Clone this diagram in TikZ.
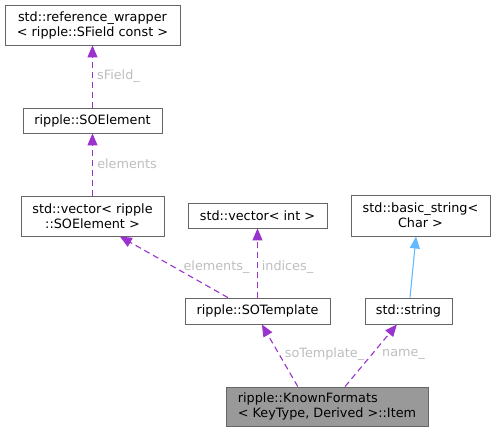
\documentclass[tikz,border=0pt]{standalone}
\usepackage{fontspec}
\setmainfont{DejaVu Sans}
\usetikzlibrary{calc,arrows.meta}
\definecolor{edgepurple}{HTML}{9A32CD}
\definecolor{edgeblue}{HTML}{63B8FF}
\definecolor{boxborder}{HTML}{666666}
\definecolor{lblgrey}{HTML}{BEBEBE}
\definecolor{itemfill}{HTML}{999999}
\tikzset{
  cls/.style={draw=boxborder, line width=0.9pt, fill=white, rectangle, inner sep=0pt,
    align=center, font=\fontsize{12.8}{15}\selectfont},
  usage/.style={draw=edgepurple, line width=1.1pt, dash pattern=on 6pt off 4pt,
    -{Triangle[length=12pt,width=10pt]}},
  inherit/.style={draw=edgeblue, line width=1.1pt, -{Triangle[length=12pt,width=10pt]}},
  lbl/.style={text=lblgrey, inner sep=0pt, font=\fontsize{12.8}{15}\selectfont}
}
\begin{document}
\begin{tikzpicture}[x=1pt,y=-1pt]
\useasboundingbox (0,0) rectangle (495,432);
\node[cls, minimum width=175pt, minimum height=40pt] (rw) at (92.5,25) {std::reference\_wrapper\\< ripple::SField const >};
\node[cls, minimum width=139pt, minimum height=25pt] (soe) at (92.5,120.5) {ripple::SOElement};
\node[cls, minimum width=143pt, minimum height=40pt] (vec) at (92.5,216) {std::vector< ripple\\::SOElement >};
\node[cls, minimum width=139pt, minimum height=25pt] (vint) at (257.5,215.5) {std::vector< int >};
\node[cls, minimum width=139pt, minimum height=41pt] (bstr) at (420.5,215.5) {std::basic\_string<\\Char >};
\node[cls, minimum width=145pt, minimum height=26pt] (sot) at (257.5,311) {ripple::SOTemplate};
\node[cls, minimum width=87pt, minimum height=26pt] (str) at (408.5,311) {std::string};
\node[cls, fill=itemfill, align=left, minimum width=202pt, minimum height=39pt] (item) at (327,406.5) {ripple::KnownFormats\\< KeyType, Derived >::Item};

\draw[usage] (soe) -- (rw);
\draw[usage] (vec) -- (soe);
\draw[usage] ($(sot.north west)!0.297!(sot.north east)$) -- ($(vec.south west)!0.69!(vec.south east)$);
\draw[usage] (sot) -- (vint);
\draw[inherit] ($(str.north west)!0.517!(str.north east)$) -- ($(bstr.south west)!0.468!(bstr.south east)$);
\draw[usage] ($(item.north west)!0.356!(item.north east)$) -- ($(sot.south west)!0.53!(sot.south east)$);
\draw[usage] ($(item.north west)!0.589!(item.north east)$) -- ($(str.south west)!0.368!(str.south east)$);

\node[lbl] (l1) at (118.5,76) {sField\_};
\node[lbl] (l2) at (127,164) {elements};
\node[lbl] (l3) at (216.5,267) {elements\_};
\node[lbl] (l4) at (287.5,267) {indices\_};
\node[lbl] (l5) at (324.5,354) {soTemplate\_};
\node[lbl] (l6) at (403.5,354) {name\_};
\end{tikzpicture}
\end{document}
